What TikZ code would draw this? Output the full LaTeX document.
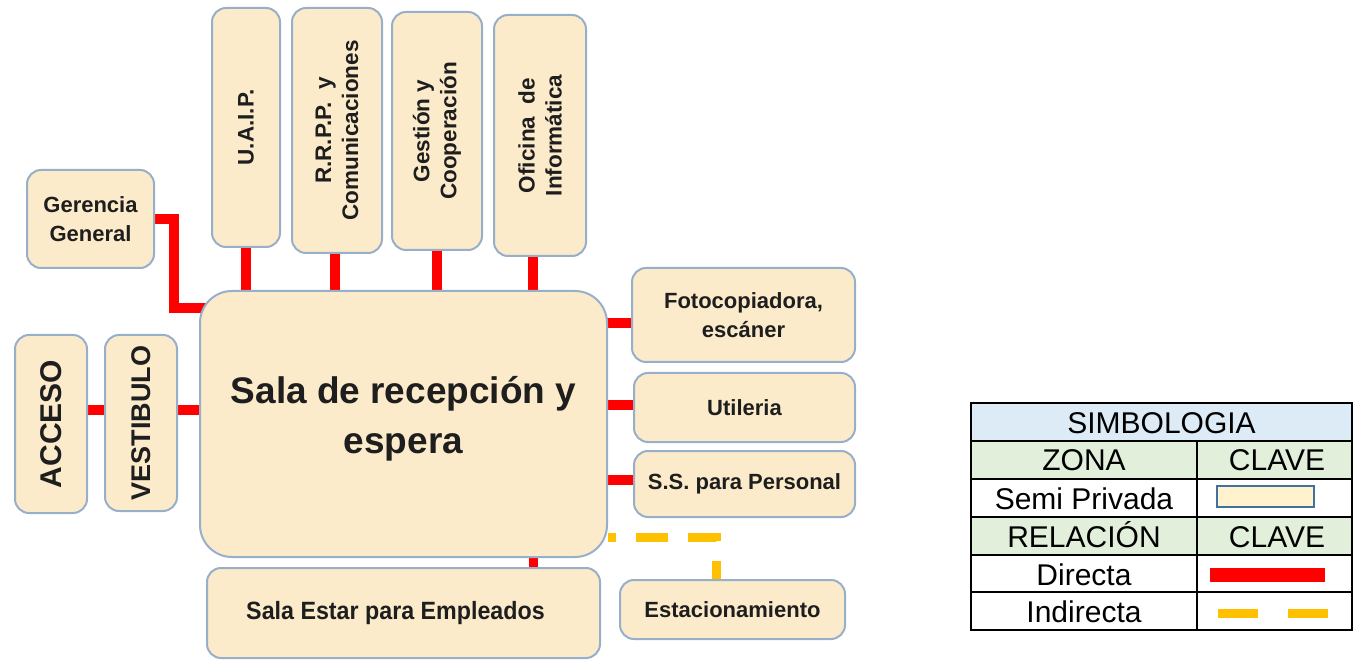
\documentclass[tikz,border=0pt]{standalone}
\usepackage{graphicx}
\usepackage{fontspec}
\setmainfont{Liberation Sans}
\usetikzlibrary{backgrounds,calc}
\definecolor{boxfill}{HTML}{FBEBCB}
\definecolor{boxline}{HTML}{98AFC9}
\definecolor{rel}{HTML}{FF0000}
\definecolor{ind}{HTML}{FFC000}
\definecolor{hdrblue}{HTML}{DDEBF7}
\definecolor{hdrgreen}{HTML}{E2EFDA}
\definecolor{swline}{HTML}{41719C}
\definecolor{swfill}{HTML}{FFF2CC}
\definecolor{txt}{HTML}{1E1E1E}
\begin{document}
\begin{tikzpicture}[x=1pt,y=-1pt,
  zone/.style={draw=boxline, line width=2pt, fill=boxfill, rounded corners=14pt,
    inner sep=0pt, align=center, text=txt, font=\bfseries\fontsize{22}{29}\selectfont},
  vzone/.style={zone, rotate=90, font=\bfseries\fontsize{22.5}{27}\selectfont},
  direct/.style={draw=rel, line width=10pt},
  indirect/.style={draw=ind, line width=9pt, dash pattern=on 32pt off 20pt, dash phase=24pt},
  legtxt/.style={anchor=base, inner sep=0pt, font=\fontsize{30}{30}\selectfont},
  grid/.style={draw=black, line width=2pt}]
\useasboundingbox (0,0) rectangle (1353,660);

% zones
\node[zone, minimum width=127pt, minimum height=98pt] (ger) at (90.5,219) {Gerencia\\General};
\node[vzone, minimum width=239pt, minimum height=68pt] (uaip) at (246,127.5) {U.A.I.P.};
\node[vzone, minimum width=245pt, minimum height=90pt] (rrpp) at (337,130.5) {R.R.P.P.~~y\\Comunicaciones};
\node[vzone, minimum width=238pt, minimum height=90pt] (gest) at (437,131) {Gestión y\\Cooperación};
\node[vzone, minimum width=241pt, minimum height=92pt] (ofi) at (540,135.5) {Oficina~~de\\Informática};
\node[zone, rounded corners=32pt, minimum width=407pt, minimum height=266pt, font=\bfseries\fontsize{37}{50}\selectfont] (sala) at (403.5,424) {Sala de recepción y\\espera\\[-32pt]};
\node[zone, minimum width=223pt, minimum height=94pt] (foto) at (743.5,315) {Fotocopiadora,\\escáner};
\node[zone, minimum width=221pt, minimum height=69pt] (util) at (744.5,407.5) {Utileria};
\node[zone, minimum width=221pt, minimum height=66pt] (ss) at (744.5,484) {S.S. para Personal};
\node[vzone, minimum width=178pt, minimum height=72pt, font=\bfseries\fontsize{30}{30}\selectfont] (acc) at (51,424) {ACCESO};
\node[vzone, minimum width=176pt, minimum height=72pt, font=\bfseries\fontsize{27}{27}\selectfont] (vest) at (141,423) {VESTIBULO};
\node[zone, minimum width=393pt, minimum height=90pt, font=\bfseries\fontsize{25}{25}\selectfont] (estar) at (403.5,613) {\scalebox{0.93}[1]{Sala Estar para Empleados}\hspace*{16pt}};
\node[zone, minimum width=225pt, minimum height=59pt] (estac) at (732.5,609.5) {Estacionamiento};

% connectors
\begin{scope}[on background layer]
  \coordinate (gk) at (174,308);
  \draw[direct] (ger.east) -| (gk) -- ($(gk -| sala.west)+(15,0)$);
  \draw[direct] (uaip.west) -- ($(uaip.west |- sala.north)+(0,5)$);
  \coordinate (rk) at ($(rrpp.west)+(-2,0)$);
  \draw[direct] (rk) -- ($(rk |- sala.north)+(0,5)$);
  \draw[direct] (gest.west) -- ($(gest.west |- sala.north)+(0,5)$);
  \coordinate (ok) at ($(ofi.west)+(-7,0)$);
  \draw[direct] (ok) -- ($(ok |- sala.north)+(0,5)$);
  \coordinate (fk) at ($(foto.west)+(0,8)$);
  \draw[direct] (fk) -- ($(fk -| sala.east)+(-12,0)$);
  \coordinate (uk) at ($(util.west)+(0,-2.5)$);
  \draw[direct] (uk) -- ($(uk -| sala.east)+(-8,0)$);
  \coordinate (sk) at ($(ss.west)+(0,-4)$);
  \draw[direct] (sk) -- ($(sk -| sala.east)+(-8,0)$);
  \coordinate (ak) at ($(acc.south)+(0,-14)$);
  \draw[direct] (ak) -- (ak -| vest.north);
  \coordinate (vk) at ($(vest.south)+(0,-13)$);
  \draw[direct] (vk) -- ($(vk -| sala.west)+(10,0)$);
  \coordinate (ek) at ($(sala.south)+(129.5,0)$);
  \draw[direct, line width=9pt] (ek) -- (ek |- estar.north);
  \coordinate (dk) at (716,537);
  \draw[indirect] (sala.east |- dk) -- (dk) -- (dk |- estac.north);
\end{scope}

% legend
\fill[hdrblue] (971,403) rectangle (1352,441);
\fill[hdrgreen] (971,441) rectangle (1352,479);
\fill[hdrgreen] (971,517) rectangle (1352,555);
\draw[grid] (971,403) rectangle (1352,630);
\foreach \yy in {441,479,517,555,592} \draw[grid] (971,\yy) -- (1352,\yy);
\draw[grid] (1197,441) -- (1197,630);
\node[legtxt] (lt) at (1161.5,433) {SIMBOLOGIA};
\node[legtxt] (lz) at (1084,471) {ZONA};
\node[legtxt] (lc1) at (1277,471) {CLAVE};
\node[legtxt] (ls) at (1084,509) {Semi Privada};
\node[legtxt] (lr) at (1084,547) {RELACIÓN};
\node[legtxt] (lc2) at (1277,547) {CLAVE};
\node[legtxt] (ld) at (1084,585) {Directa};
\node[legtxt] (li) at (1084,622) {Indirecta};
\draw[draw=swline, fill=swfill, line width=1.5pt] (1217,486) rectangle (1314,507);
\draw[draw=rel, line width=14pt] (1210,575) -- (1325,575);
\draw[draw=ind, line width=9pt] (1218,613.5) -- (1258,613.5);
\draw[draw=ind, line width=9pt] (1288,613.5) -- (1328,613.5);
\end{tikzpicture}
\end{document}
